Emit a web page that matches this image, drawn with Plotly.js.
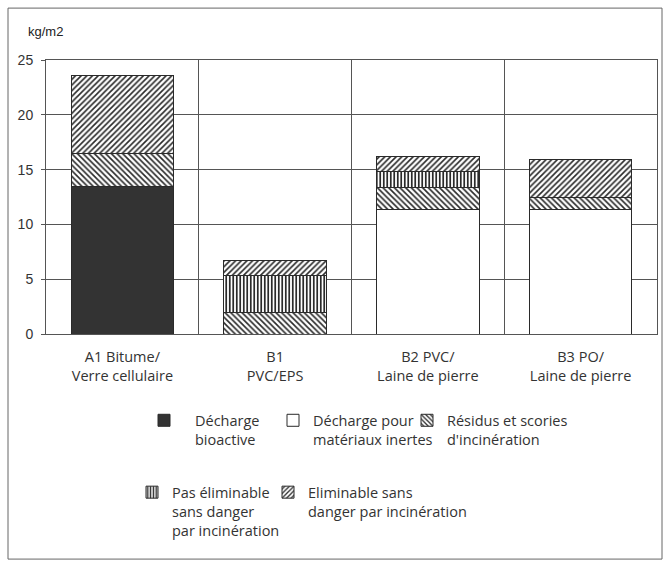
<!DOCTYPE html>
<html>
<head>
<meta charset="utf-8">
<script src="https://cdn.plot.ly/plotly-3.0.1.min.js"></script>
<style>html,body{margin:0;padding:0;background:#fff;}#chart{width:665px;height:568px;}</style>
</head>
<body>
<div id="chart"></div>
<script>
// Categories (x axis)
const categories = ["A1 Bitume/<br>Verre cellulaire", "B1<br>PVC/EPS", "B2 PVC/<br>Laine de pierre", "B3 PO/<br>Laine de pierre"];
// Series values (kg/m2), stacked bottom to top
const dechargeBioactive = [13.5, 0, 0, 0];
const dechargeInertes   = [0, 0, 11.4, 11.4];
const residusScories    = [2.95, 2.0, 2.0, 1.1];
const pasEliminable     = [0, 3.35, 1.4, 0];
const eliminable        = [7.15, 1.4, 1.4, 3.4];
// Legend labels
const seriesNames = [
  "Décharge<br>bioactive",
  "Décharge pour<br>matériaux inertes",
  "Résidus et scories<br>d'incinération",
  "Pas éliminable<br>sans danger<br>par incinération",
  "Eliminable sans<br>danger par incinération"
];
const yTicks = [0, 5, 10, 15, 20, 25];

const ink = "#2a2a2a";
const line = {color: ink, width: 1};
function bar(y, name, marker, legend) {
  return {type: "bar", x: categories, y: y, name: name, legend: legend,
    marker: Object.assign({line: line}, marker), hoverinfo: "skip"};
}
const traces = [
  bar(dechargeBioactive, seriesNames[0], {color: "#333333"}, "legend"),
  bar(dechargeInertes, seriesNames[1], {color: "#ffffff"}, "legend2"),
  bar(residusScories, seriesNames[2], {color: "#ffffff", pattern: {shape: "\\", fgcolor: ink, bgcolor: "#ffffff", size: 4, solidity: 0.4}}, "legend3"),
  bar(pasEliminable, seriesNames[3], {color: "#ffffff", pattern: {shape: "|", fgcolor: ink, bgcolor: "#ffffff", size: 3.5, solidity: 0.5}}, "legend4"),
  bar(eliminable, seriesNames[4], {color: "#ffffff", pattern: {shape: "/", fgcolor: ink, bgcolor: "#ffffff", size: 4, solidity: 0.4}}, "legend5")
];

// plot area geometry helpers (paper coords)
const L = 46, R = 657, T = 60, B = 334.5;
const px = x => (x - L) / (R - L);
const py = y => (B - y) / (B - T);

const legFont = {family: "Open Sans, Noto Sans, sans-serif", size: 14.5, color: "#333"};
function leg(xpx, ypx, iw) {
  return {x: px(xpx), y: py(ypx), xanchor: "left", yanchor: "top", orientation: "v",
    bgcolor: "rgba(0,0,0,0)", borderwidth: 0, font: legFont, valign: "top",
    itemwidth: iw || 30, tracegroupgap: 0, itemclick: false, itemdoubleclick: false};
}

const layout = {
  width: 665, height: 568,
  margin: {l: L, r: 665 - R, t: T, b: 568 - B},
  paper_bgcolor: "#ffffff", plot_bgcolor: "#ffffff",
  barmode: "stack", bargap: 0.33,
  showlegend: true,
  font: {family: "Liberation Sans, Arial, sans-serif", color: "#333"},
  xaxis: {
    type: "category", tickson: "boundaries", showgrid: true, gridcolor: "#555", gridwidth: 1,
    ticks: "", showline: true, linecolor: "#555", linewidth: 1, mirror: true,
    ticklabelstandoff: 10,
    tickfont: {family: "Open Sans, Noto Sans, sans-serif", size: 14.5, color: "#333"},
    fixedrange: true
  },
  yaxis: {
    range: [0, 25], tickvals: yTicks, ticktext: yTicks.map(String),
    showgrid: true, gridcolor: "#555", gridwidth: 1, zeroline: false,
    ticks: "outside", ticklen: 4, tickcolor: "#555",
    showline: true, linecolor: "#555", linewidth: 1, mirror: true,
    ticklabelstandoff: 5,
    tickfont: {family: "Liberation Sans, Arial, sans-serif", size: 14, color: "#333"},
    fixedrange: true
  },
  legend: leg(133, 405, 52),
  legend2: leg(273, 405),
  legend3: leg(407, 405),
  legend4: leg(132, 477),
  legend5: leg(268, 477),
  annotations: [{
    text: "kg/m2", xref: "paper", yref: "paper", x: px(26), y: py(31),
    xanchor: "left", yanchor: "middle", showarrow: false,
    font: {family: "Liberation Sans, Arial, sans-serif", size: 13, color: "#222"}
  }],
  shapes: [{
    type: "rect", xref: "paper", yref: "paper", layer: "below",
    x0: px(8), x1: px(662), y0: py(560), y1: py(8),
    line: {color: "#666", width: 1}, fillcolor: "rgba(0,0,0,0)"
  }]
};

Plotly.newPlot("chart", traces, layout, {displayModeBar: false, staticPlot: true});
</script>
</body>
</html>
